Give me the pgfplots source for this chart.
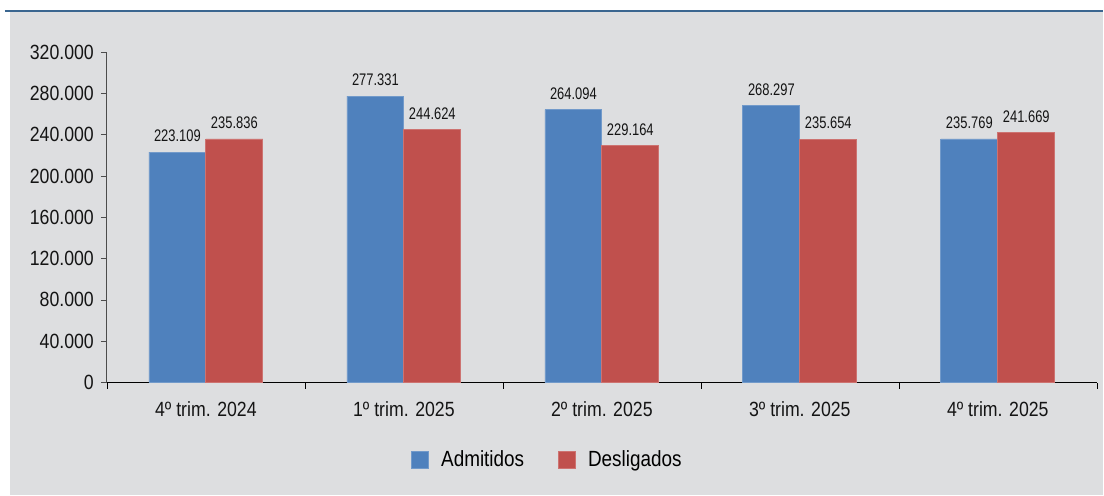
\documentclass[border=0pt]{standalone}
\usepackage{pgfplots}
\pgfplotsset{compat=1.18}
\usepackage{fontspec}
\setmainfont{Liberation Sans}[FakeStretch=0.86]
\newfontfamily\labfont{Liberation Sans}[FakeStretch=0.77]
\definecolor{bgray}{HTML}{DDDEE0}
\definecolor{cblue}{HTML}{4F81BD}
\definecolor{cred}{HTML}{C0504D}
\definecolor{lineblue}{HTML}{3A6690}
\begin{document}
\begin{tikzpicture}
\fill[white] (0,0) rectangle (552pt,248pt);
\fill[bgray] (5pt,0) rectangle (552pt,242pt);
\draw[lineblue, line width=1.2pt] (2.5pt,242.4pt) -- (552pt,242.4pt);
\begin{axis}[
  at={(53.5pt,56.5pt)}, anchor=south west,
  width=495.5pt, height=165.5pt, scale only axis,
  ybar=0pt, bar width=28.5pt,
  xmin=-0.5, xmax=4.5, ymin=0, ymax=320000,
  axis x line*=bottom, axis y line*=left,
  axis line style={-}, x axis line style={black}, y axis line style={black!70},
  xtick={0,1,2,3,4},
  xticklabels={4º trim. 2024,1º trim. 2025,2º trim. 2025,3º trim. 2025,4º trim. 2025},
  major x tick style={draw=none},
  minor xtick={-0.5,0.5,1.5,2.5,3.5,4.5},
  minor tick length=3pt,
  minor x tick style={black},
  ytick={0,40000,80000,120000,160000,200000,240000,280000,320000},
  tick align=outside, major tick length=3pt,
  y tick style={black!70},
  scaled y ticks=false,
  /pgf/number format/.cd, fixed, precision=0, 1000 sep={.}, assume math mode=true, /pgfplots/.cd,
  ticklabel style={font=\fontsize{10.3}{12}\selectfont, text=black!92},
  xticklabel style={yshift=-3pt},
  nodes near coords={\pgfmathprintnumber[fixed,precision=0,1000 sep={.},assume math mode=true]{\pgfplotspointmeta}},
  nodes near coords style={font=\labfont\fontsize{8.4}{9}\selectfont, text=black!92, yshift=1.5pt},
  legend columns=-1,
  legend style={at={(0.446,-0.233)}, anchor=center, draw=none, fill=none,
    font=\fontsize{11}{12}\selectfont,
    /tikz/every even column/.append style={column sep=15pt},
    /tikz/every odd column/.append style={column sep=4pt}},
  legend image code/.code={\fill[#1] (0pt,-4.3pt) rectangle (8.6pt,4.3pt);},
]
\addplot[fill=cblue, draw=cblue!80!white] coordinates {(0,223109) (1,277331) (2,264094) (3,268297) (4,235769)};
\addplot[fill=cred, draw=cred!80!white] coordinates {(0,235836) (1,244624) (2,229164) (3,235654) (4,241669)};
\legend{Admitidos,Desligados}
\end{axis}
\end{tikzpicture}
\end{document}
